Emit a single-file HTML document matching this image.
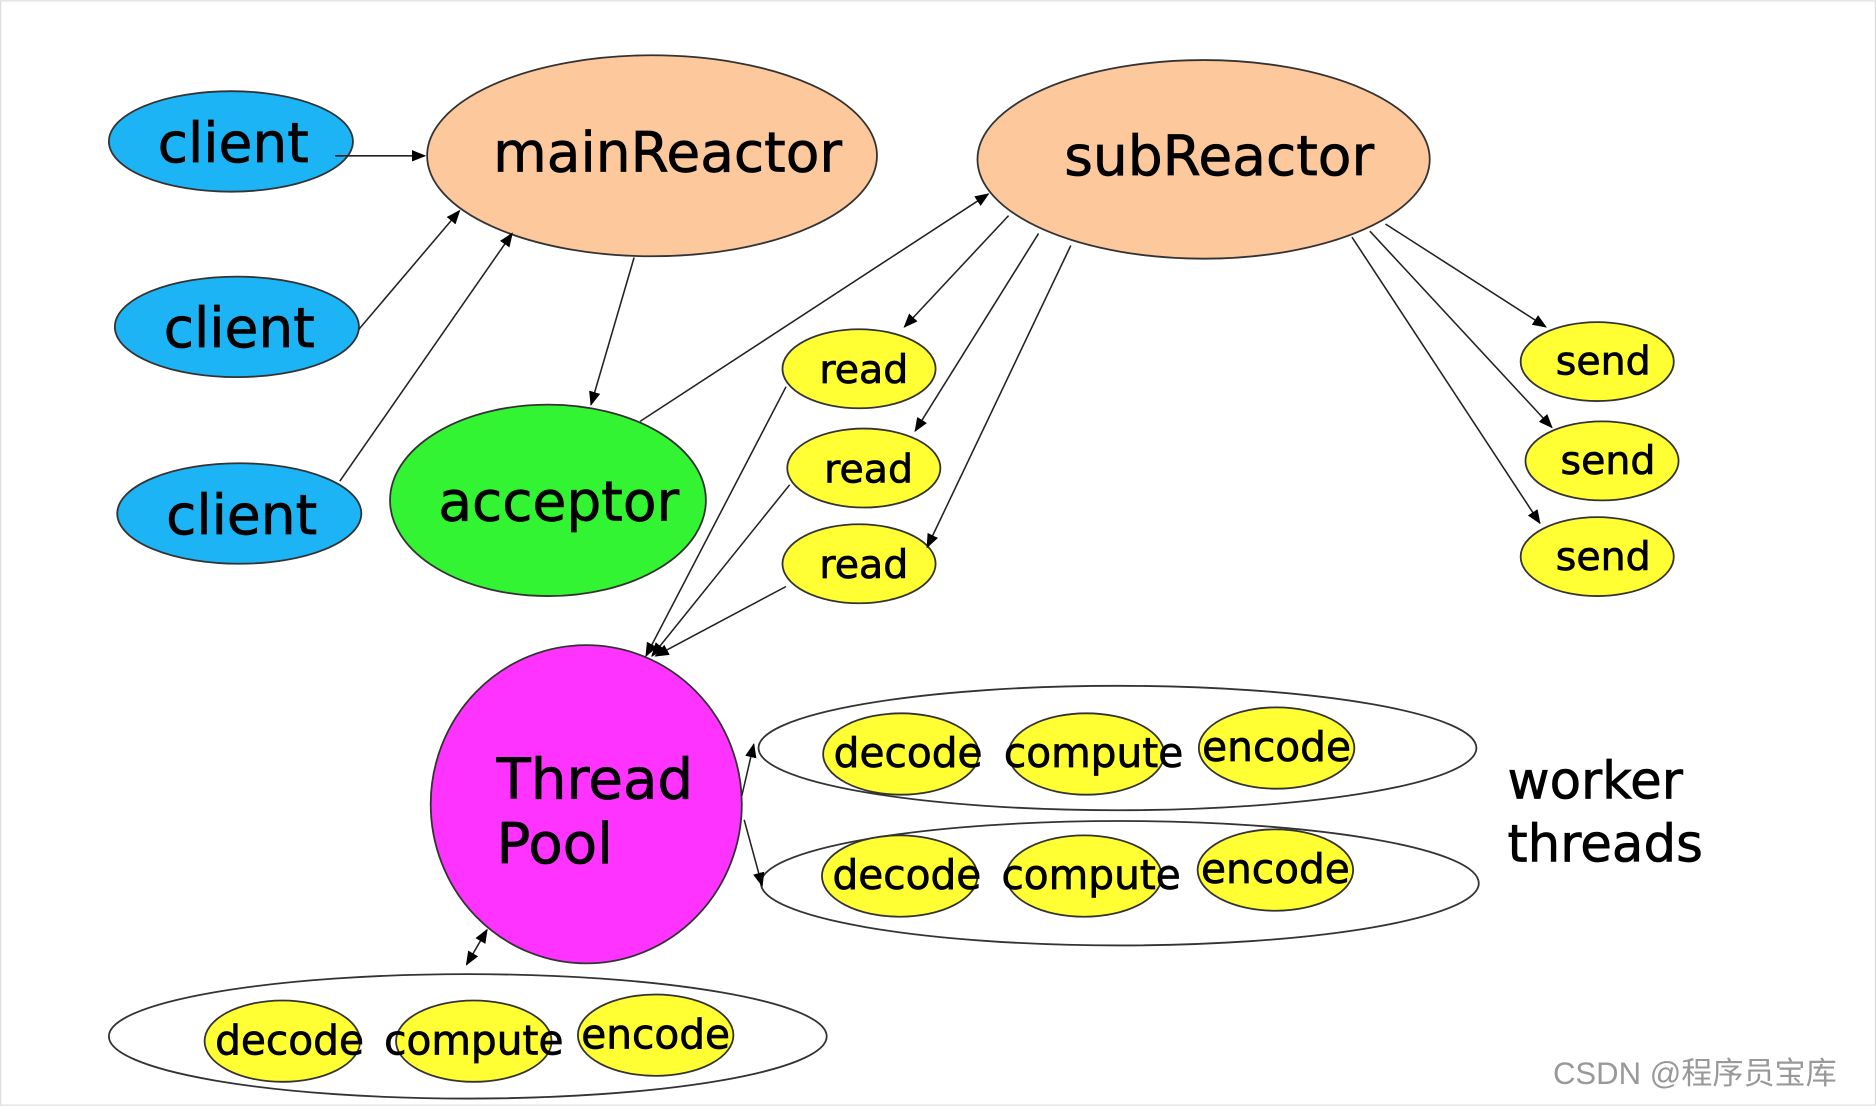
<!DOCTYPE html>
<html><head><meta charset="utf-8"><style>
html,body{margin:0;padding:0;background:#fff;}
svg{display:block;}
.t{font-family:"DejaVu Sans","Liberation Sans",sans-serif;fill:#000;stroke:#000;stroke-width:0.6;}
</style></head><body>
<svg width="1876" height="1106" viewBox="0 0 1568 924" xmlns="http://www.w3.org/2000/svg">
<defs>
<marker id="a" viewBox="0 0 10 10" refX="9" refY="5" markerWidth="12" markerHeight="12" markerUnits="userSpaceOnUse" orient="auto-start-reverse">
<path d="M0,1 L10,5 L0,9 z" fill="#000"/></marker>
</defs>
<rect x="0.5" y="0.5" width="1567" height="923" fill="#fff" stroke="#ddd"/>
<g stroke="#333" stroke-width="1.5">
<ellipse cx="193" cy="118" rx="102" ry="42" fill="#1cb4f4"/>
<ellipse cx="198" cy="273" rx="102" ry="42" fill="#1cb4f4"/>
<ellipse cx="200" cy="429" rx="102" ry="42" fill="#1cb4f4"/>
<ellipse cx="545" cy="130" rx="188" ry="84" fill="#fcc89c"/>
<ellipse cx="1006" cy="133" rx="189" ry="83" fill="#fcc89c"/>
<ellipse cx="458" cy="418" rx="132" ry="80" fill="#33f433"/>
<ellipse cx="718" cy="308" rx="64" ry="33" fill="#ffff33"/>
<ellipse cx="722" cy="391" rx="64" ry="33" fill="#ffff33"/>
<ellipse cx="718" cy="471" rx="64" ry="33" fill="#ffff33"/>
<ellipse cx="1335" cy="302" rx="64" ry="33" fill="#ffff33"/>
<ellipse cx="1339" cy="385" rx="64" ry="33" fill="#ffff33"/>
<ellipse cx="1335" cy="465" rx="64" ry="33" fill="#ffff33"/>
<ellipse cx="490" cy="672" rx="130" ry="133" fill="#ff33ff"/>
<ellipse cx="934" cy="625" rx="300" ry="52" fill="#fff"/>
<ellipse cx="936" cy="738" rx="300" ry="52" fill="#fff"/>
<ellipse cx="391" cy="866" rx="300" ry="52" fill="#fff"/>
<ellipse cx="753" cy="630" rx="65" ry="34" fill="#ffff33"/>
<ellipse cx="908" cy="630" rx="65" ry="34" fill="#ffff33"/>
<ellipse cx="1067" cy="625" rx="65" ry="34" fill="#ffff33"/>
<ellipse cx="752" cy="732" rx="65" ry="34" fill="#ffff33"/>
<ellipse cx="906" cy="732" rx="65" ry="34" fill="#ffff33"/>
<ellipse cx="1066" cy="727" rx="65" ry="34" fill="#ffff33"/>
<ellipse cx="236" cy="870" rx="65" ry="34" fill="#ffff33"/>
<ellipse cx="396" cy="870" rx="65" ry="34" fill="#ffff33"/>
<ellipse cx="548" cy="865" rx="65" ry="34" fill="#ffff33"/>
</g>
<g stroke="#222" stroke-width="1.3" marker-end="url(#a)" fill="none">
<line x1="280" y1="130" x2="355" y2="130"/>
<line x1="300" y1="275" x2="384" y2="176"/>
<line x1="284" y1="402" x2="428" y2="195"/>
<line x1="530" y1="215" x2="494" y2="338"/>
<line x1="535" y1="352" x2="826" y2="162"/>
<line x1="843" y1="180" x2="756" y2="273"/>
<line x1="868" y1="195" x2="765" y2="360"/>
<line x1="895" y1="205" x2="775" y2="457"/>
<line x1="1158" y1="187" x2="1292" y2="273"/>
<line x1="1145" y1="193" x2="1297" y2="357"/>
<line x1="1130" y1="198" x2="1287" y2="437"/>
<line x1="657" y1="323" x2="540" y2="548"/>
<line x1="660" y1="405" x2="545" y2="548"/>
<line x1="657" y1="490" x2="548" y2="548"/>
<line x1="620" y1="665" x2="630" y2="622"/>
<line x1="622" y1="685" x2="637" y2="740"/>
<line x1="390" y1="806" x2="407" y2="777" marker-start="url(#a)"/>
</g>
<g text-anchor="middle" class="t">
<text x="195" y="135" font-size="46">client</text>
<text x="200" y="290" font-size="46">client</text>
<text x="202" y="446" font-size="46">client</text>
<text x="558" y="143" font-size="46">mainReactor</text>
<text x="1019" y="146" font-size="46">subReactor</text>
<text x="467" y="435" font-size="46">acceptor</text>
<text x="722" y="320" font-size="33">read</text>
<text x="726" y="403" font-size="33">read</text>
<text x="722" y="483" font-size="33">read</text>
<text x="1340" y="313" font-size="33">send</text>
<text x="1344" y="396" font-size="33">send</text>
<text x="1340" y="476" font-size="33">send</text>
<g font-size="34">
<text x="759" y="641">decode</text><text x="914" y="641">compute</text><text x="1067" y="636">encode</text>
<text x="758" y="743">decode</text><text x="912" y="743">compute</text><text x="1066" y="738">encode</text>
<text x="242" y="881">decode</text><text x="396" y="881">compute</text><text x="548" y="876">encode</text>
</g>
</g>
<g class="t">
<text x="415" y="667" font-size="47">Thread</text>
<text x="415" y="721" font-size="47">Pool</text>
<text x="1260" y="667" font-size="43">worker</text>
<text x="1260" y="720" font-size="43">threads</text>
</g>
<text x="1298" y="906" font-size="26" fill="#999" font-family="Liberation Sans, Noto Sans CJK SC, sans-serif">CSDN @程序员宝库</text>
</svg>
</body></html>
